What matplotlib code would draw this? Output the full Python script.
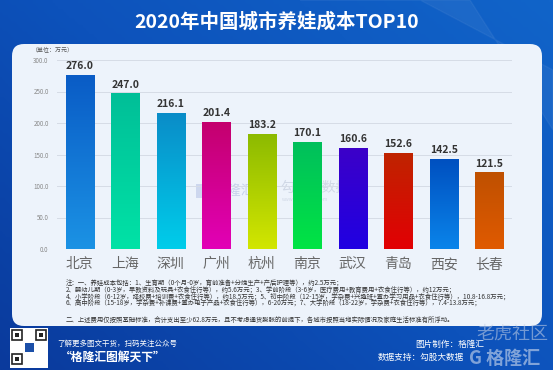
import numpy as np
import matplotlib
matplotlib.use("Agg")
import matplotlib.pyplot as plt
from matplotlib.patches import FancyBboxPatch, Rectangle
from matplotlib.colors import LinearSegmentedColormap

plt.rcParams['font.family'] = ['Noto Sans CJK SC', 'DejaVu Sans']

# data
cities = ["北京", "上海", "深圳", "广州", "杭州", "南京", "武汉", "青岛", "西安", "长春"]
costs = [276.0, 247.0, 216.1, 201.4, 183.2, 170.1, 160.6, 152.6, 142.5, 121.5]
top_colors = ["#0a5cc6", "#00bf98", "#0a8cc8", "#c4006e", "#8cba00",
              "#00bf5c", "#3c00c8", "#bf2400", "#0050c0", "#bf5000"]
bottom_colors = ["#1b92e4", "#00e2a6", "#00cdea", "#e200b6", "#d2e600",
                 "#00e444", "#2000e2", "#e20004", "#0a84ea", "#e05a00"]
yticks = [0, 50, 100, 150, 200, 250, 300]

notes = [
    "注：一、养娃成本包括：1、生育期（0个月-0岁，育前准备+分娩生产+产后护理等），约2.5万元；",
    "2、婴幼儿期（0-3岁，早教资料及玩具+衣食住行等），约5.6万元；3、学前阶段（3-6岁，医疗费用+教育费用+衣食住行等），约12万元；",
    "4、小学阶段（6-12岁，择校费+培训费+衣食住行等），约18.5万元；5、初中阶段（12-15岁，学杂费+兴趣班+置办学习用品+衣食住行等），10.8-16.8万元；",
    "6、高中阶段（15-18岁，学杂费+补课费+置办电子产品+衣食住行等），6-20万元；7、大学阶段（18-22岁，学杂费+衣食住行等），7.4-13.8万元；",
]
note2 = "二、上述费用仅按照基础标准，合计支出至少62.8万元，且不考虑通货膨胀的前提下，各城市按照当地实际情况及家庭生活标准有所浮动。"

W, H = 553, 370
fig = plt.figure(figsize=(W / 100, H / 100), dpi=100)

# background in pixel coordinates
bg = fig.add_axes([0, 0, 1, 1])
bg.set_xlim(0, W)
bg.set_ylim(H, 0)
bg.axis("off")
gx = np.linspace(0, 1, 200)
gy = np.linspace(0, 1, 120)
GX, GY = np.meshgrid(gx, gy)
grad = 0.55 * GX + 0.45 * (1 - GY)
bg_cmap = LinearSegmentedColormap.from_list("bg", ["#0a3a9c", "#0d52bb", "#1164c9"])
bg.imshow(grad, cmap=bg_cmap, extent=[0, W, H, 0], aspect="auto", zorder=0)
# light diagonal streak
bg.fill([300, 420, 553, 553, 470], [0, 0, 70, 130, 0], color="white", alpha=0.05, zorder=1)

panel = FancyBboxPatch((12, 44), 530, 282, boxstyle="round,pad=0,rounding_size=12",
                       facecolor="#edf3fb", edgecolor="none", zorder=2)
bg.add_patch(panel)

bg.text(W / 2, 22, "2020年中国城市养娃成本TOP10", color="white", fontsize=14,
        fontweight="bold", ha="center", va="center", zorder=3)
bg.text(32, 49, "（单位：万元）", color="#555555", fontsize=4.3, ha="left", va="center", zorder=3)

for i, line in enumerate(notes):
    bg.text(66, 284 + i * 6.6, line, color="#333333", fontsize=4.6, ha="left", va="center", zorder=3)
bg.text(66, 320, note2, color="#333333", fontsize=4.6, ha="left", va="center", zorder=3)

# faint watermark
bg.add_patch(Rectangle((196, 184), 14, 14, facecolor="#6f86c8", alpha=0.25, zorder=3))
bg.text(214, 191, "格隆汇", color="#6f86c8", alpha=0.3, fontsize=10, ha="left", va="center", zorder=3)
bg.plot([267, 267], [182, 202], color="#9aa6c0", alpha=0.3, lw=0.6, zorder=3)
bg.text(280, 188, "勾股大数据", color="#8d9ab5", alpha=0.3, fontsize=10, ha="left", va="center", zorder=3)
bg.text(282, 200, "www.gogudata.com", color="#8d9ab5", alpha=0.3, fontsize=3.5, ha="left", va="center", zorder=3)

# footer
bg.add_patch(Rectangle((10, 328), 38, 40, facecolor="white", zorder=3))
for (qx, qy) in [(12, 330), (36, 330), (12, 354)]:
    bg.add_patch(Rectangle((qx, qy), 10, 10, facecolor="none", edgecolor="#222222", lw=1.2, zorder=4))
    bg.add_patch(Rectangle((qx + 3, qy + 3), 4, 4, facecolor="#222222", zorder=4))
bg.add_patch(Rectangle((25, 343), 9, 9, facecolor="#1b4fa8", zorder=4))
bg.text(57, 344, "了解更多图文干货，扫码关注公众号", color="white", fontsize=5.4,
        style="italic", ha="left", va="center", zorder=3)
bg.text(60, 357, "“格隆汇图解天下”", color="white", fontsize=8.5,
        fontweight="bold", style="italic", ha="left", va="center", zorder=3)
bg.text(415, 344, "图片制作：格隆汇", color="white", fontsize=6.2, ha="left", va="center", zorder=3)
bg.text(378, 357, "数据支持：勾股大数据", color="white", fontsize=6.2, ha="left", va="center", zorder=3)
bg.text(512, 334, "老虎社区", color="#c8d2e6", alpha=0.55, fontsize=13, ha="center", va="center", zorder=3)
bg.text(505, 358, "G 格隆汇", color="#dfe6f2", alpha=0.55, fontsize=13, fontweight="bold",
        ha="center", va="center", zorder=3)

# main chart
ax = fig.add_axes([57 / W, 1 - 249 / H, (512 - 57) / W, (249 - 60) / H])
ax.patch.set_alpha(0)
x = np.arange(len(cities))
bars = ax.bar(x, costs, width=0.62, facecolor="none", edgecolor="none", zorder=3)
for i, b in enumerate(bars):
    cm = LinearSegmentedColormap.from_list("c%d" % i, [bottom_colors[i], top_colors[i]])
    g = np.linspace(0, 1, 100).reshape(-1, 1)
    im = ax.imshow(g, cmap=cm, origin="lower", aspect="auto", zorder=3,
                   extent=[b.get_x(), b.get_x() + b.get_width(), 0, b.get_height()])
    im.set_clip_path(b)
    ax.text(x[i], costs[i] + 6, "%.1f" % costs[i], ha="center", va="bottom",
            fontsize=7.5, fontweight="bold", color="#333333", zorder=4)

ax.set_xlim(-0.5, 9.5)
ax.set_ylim(0, 300)
ax.set_yticks(yticks)
ax.set_yticklabels(["%.1f" % v for v in yticks], fontsize=4.5, color="#888888")
ax.set_xticks(x)
ax.set_xticklabels(cities, fontsize=10, color="#666666")
ax.tick_params(axis="x", length=0, pad=6)
ax.tick_params(axis="y", length=0, pad=6)
ax.grid(axis="y", color="#d6dce6", lw=0.7, zorder=0)
for s in ax.spines.values():
    s.set_visible(False)

fig.savefig("out.png", dpi=100)
